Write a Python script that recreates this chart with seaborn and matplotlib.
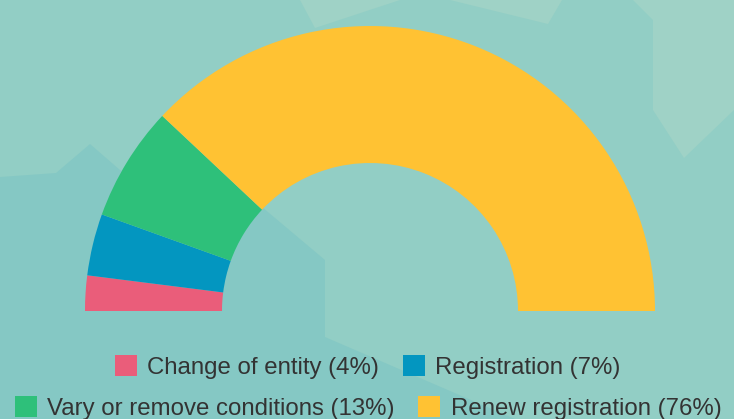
import matplotlib
matplotlib.use("Agg")
import matplotlib.pyplot as plt
from matplotlib.patches import Polygon
import seaborn as sns

# ---- data ----
categories = ["Change of entity", "Registration", "Vary or remove conditions", "Renew registration"]
shares = [4, 7, 13, 76]
colors_hex = ["#EA5D7A", "#0396C0", "#2EC07A", "#FFC233"]

sns.set_theme(style="white")
plt.rcParams["font.family"] = ["Liberation Sans", "DejaVu Sans"]
palette = sns.color_palette(colors_hex)

W, H = 734, 419
fig = plt.figure(figsize=(W / 100, H / 100), dpi=100)
BG = "#92CEC5"
fig.patch.set_facecolor(BG)

# decorative background shapes (pixel coords, y from top)
BACKGROUND_SHAPES = [
    ("#85C8C4", [(0, 177), (56, 173), (90, 144), (120, 170), (200, 195), (262, 207), (325, 260),
                 (325, 337), (515, 419), (0, 419)]),
    ("#9FD2C6", [(300, 0), (315, 28), (400, 0)]),
    ("#9FD2C6", [(450, 0), (548, 24), (562, 0)]),
    ("#9FD2C6", [(633, 0), (653, 20), (653, 110), (684, 158), (734, 110), (734, 0)]),
]
for col, pts in BACKGROUND_SHAPES:
    fig.add_artist(Polygon([(x / W, 1 - y / H) for x, y in pts], closed=True,
                           facecolor=col, edgecolor="none", transform=fig.transFigure, zorder=0))

# axes box: centre (370,311), radius 285 px
cx, cy, R = 370, 311, 285
ax = fig.add_axes([(cx - R) / W, (H - cy) / H, 2 * R / W, R / H])
ax.patch.set_alpha(0)

vals = shares + [sum(shares)]
wedges, _ = ax.pie(vals, colors=list(palette) + [(0, 0, 0, 0)], startangle=180, counterclock=False,
                   radius=1, wedgeprops=dict(width=1 - 148 / 285, edgecolor="none", linewidth=0))
for w in wedges:
    w.set_clip_on(False)
wedges[-1].set_visible(False)
ax.set_aspect("auto")
ax.set_xlim(-1, 1)
ax.set_ylim(0, 1)
ax.axis("off")

labels = [f"{c} ({v}%)" for c, v in zip(categories, shares)]
common = dict(frameon=False, fontsize=17.3, handlelength=0.92, handleheight=0.92,
              handletextpad=0.42, columnspacing=1.0, labelcolor="#333333", borderpad=0, borderaxespad=0)
leg1 = fig.legend(wedges[:2], labels[:2], ncol=2, loc="center", bbox_to_anchor=(368 / W, 1 - 367 / H), **common)
leg2 = fig.legend(wedges[2:4], labels[2:4], ncol=2, loc="center", bbox_to_anchor=(368 / W, 1 - 408 / H), **common)

fig.savefig("out.png", dpi=100, facecolor=BG)
